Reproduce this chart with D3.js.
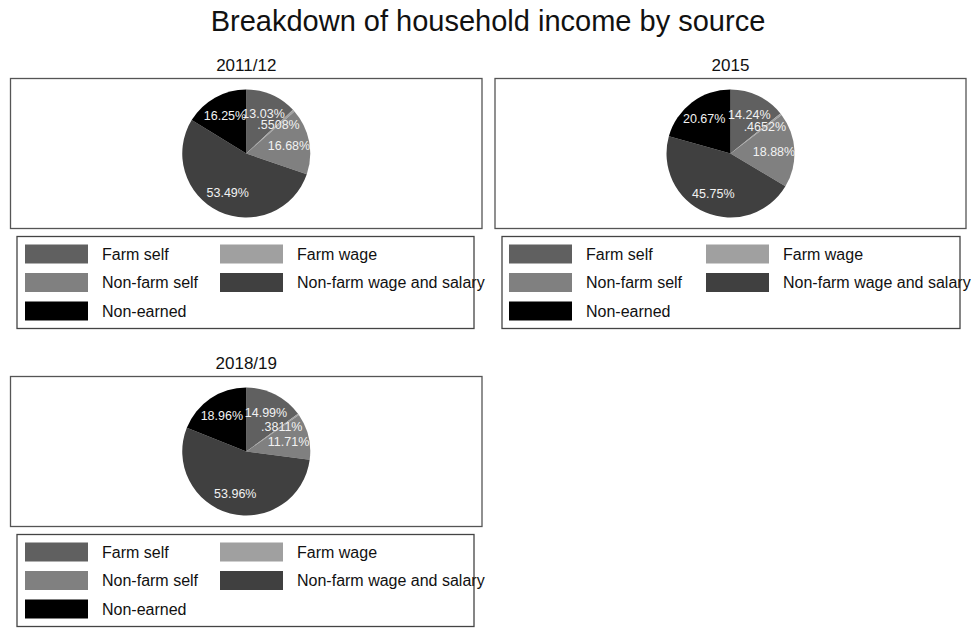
<!DOCTYPE html>
<html>
<head>
<meta charset="utf-8">
<script src="https://cdn.jsdelivr.net/npm/d3@7"></script>
<style>
  body { margin: 0; background: #fff; }
  text { font-family: "Liberation Sans", Arial, sans-serif; }
</style>
</head>
<body>
<div id="chart"></div>
<script>
const W = 971, H = 628;

const categories = ["Farm self", "Farm wage", "Non-farm self", "Non-farm wage and salary", "Non-earned"];
const sliceColors = ["#606060", "#a0a0a0", "#808080", "#404040", "#000000"];
const panelTitles = ["2011/12", "2015", "2018/19"];
const values2011 = [13.03, 0.5508, 16.68, 53.49, 16.25];
const values2015 = [14.24, 0.4652, 18.88, 45.75, 20.67];
const values2018 = [14.99, 0.3811, 11.71, 53.96, 18.96];
const panelValues = [values2011, values2015, values2018];

// panel frames: left, right, top
const frames = [
  { x0: 10.5, x1: 482, y0: 78.5 },
  { x0: 495, x1: 966, y0: 78.5 },
  { x0: 10.5, x1: 482, y0: 376.5 }
];
const legendBoxes = [
  { x0: 17, x1: 474, sw1: 25, sw2: 220 },
  { x0: 502, x1: 960, sw1: 509, sw2: 706 },
  { x0: 17, x1: 474, sw1: 25, sw2: 220 }
];

const color = d3.scaleOrdinal().domain(categories).range(sliceColors);
const fmt = v => d3.format(".4")(v).replace(/^0\./, ".") + "%";

const svg = d3.select("#chart").append("svg")
  .attr("width", W).attr("height", H);

svg.append("text")
  .attr("x", 488).attr("y", 31)
  .attr("text-anchor", "middle")
  .style("font-size", "29px")
  .style("fill", "#111")
  .text("Breakdown of household income by source");

const R = 64;
const pie = d3.pie().sort(null).value(d => d.v);
const arc = d3.arc().innerRadius(0).outerRadius(R);
const labelArc = d3.arc().innerRadius(R * 0.68).outerRadius(R * 0.68);

panelValues.forEach((vals, i) => {
  const f = frames[i], lb = legendBoxes[i];
  const g = svg.append("g");
  const cx = (f.x0 + f.x1) / 2, cy = f.y0 + 75;

  g.append("text")
    .attr("x", cx).attr("y", f.y0 - 8)
    .attr("text-anchor", "middle")
    .style("font-size", "17px")
    .style("fill", "#111")
    .text(panelTitles[i]);

  g.append("rect")
    .attr("x", f.x0).attr("y", f.y0)
    .attr("width", f.x1 - f.x0).attr("height", 150)
    .attr("fill", "#fff")
    .attr("stroke", "#555").attr("stroke-width", 1.3);

  const data = pie(categories.map((c, j) => ({ c: c, v: vals[j] })));
  const pg = g.append("g").attr("transform", `translate(${cx},${cy})`);
  pg.selectAll("path")
    .data(data)
    .enter().append("path")
    .attr("d", arc)
    .attr("fill", d => color(d.data.c));

  pg.selectAll("text")
    .data(data)
    .enter().append("text")
    .attr("transform", d => `translate(${labelArc.centroid(d)})`)
    .attr("text-anchor", "middle")
    .attr("dy", "0.35em")
    .style("font-size", "12.5px")
    .style("fill", "#f2f2f2")
    .text(d => fmt(d.data.v));

  // legend
  const ly0 = f.y0 + 158;
  g.append("rect")
    .attr("x", lb.x0).attr("y", ly0)
    .attr("width", lb.x1 - lb.x0).attr("height", 92)
    .attr("fill", "#fff")
    .attr("stroke", "#444").attr("stroke-width", 1.3);

  const items = g.selectAll("g.item")
    .data(categories)
    .enter().append("g")
    .attr("class", "item")
    .attr("transform", (d, j) => {
      const x = j % 2 === 0 ? lb.sw1 : lb.sw2;
      const y = ly0 + 8 + Math.floor(j / 2) * 28.5;
      return `translate(${x},${y})`;
    });

  items.append("rect")
    .attr("width", 63).attr("height", 19)
    .attr("fill", d => color(d));

  items.append("text")
    .attr("x", 77).attr("y", 9.5)
    .attr("dy", "0.35em")
    .style("font-size", "16px")
    .style("fill", "#111")
    .text(d => d);
});
</script>
</body>
</html>
